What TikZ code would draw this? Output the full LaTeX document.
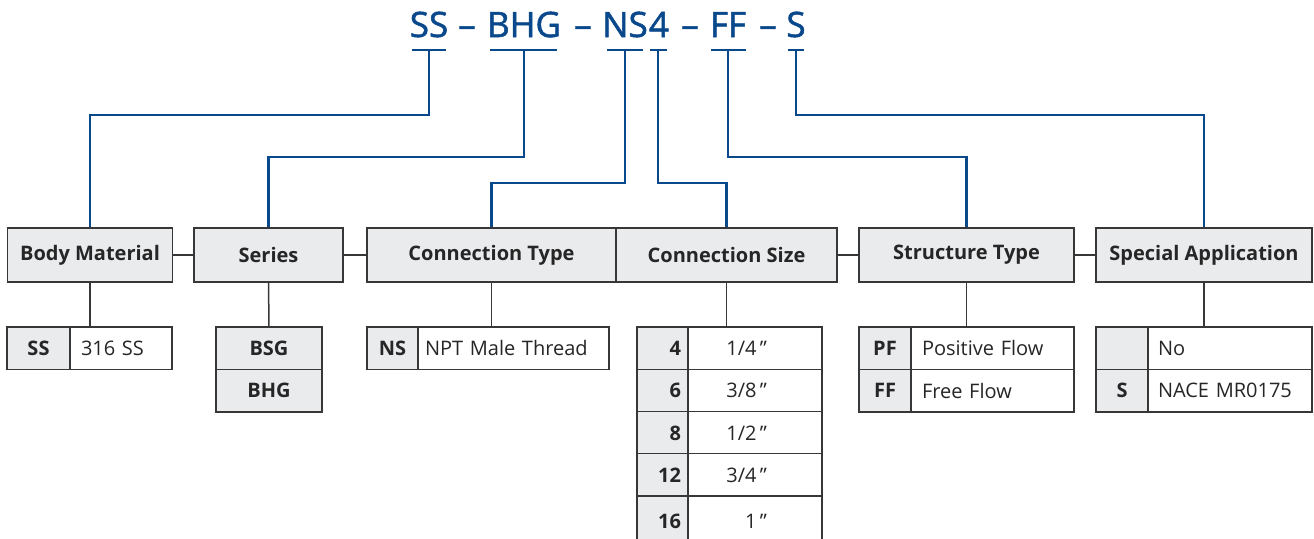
\documentclass[tikz,border=0pt]{standalone}
\usepackage{fontspec}
\setmainfont{Open Sans}
\newfontfamily\codefont[FakeBold=1.5]{Open Sans}
\definecolor{codeblue}{RGB}{10,72,140}
\definecolor{bordc}{RGB}{55,55,55}
\definecolor{cellg}{RGB}{234,235,237}
\newcommand{\qmk}{{\char"22}}
\tikzset{
  hdr/.style={draw=bordc, fill=cellg, line width=1.3pt, minimum height=54pt, inner sep=0pt,
    font=\bfseries\fontsize{20}{23}\selectfont, text=black!85},
  keyc/.style={draw=bordc, fill=cellg, line width=1.3pt, minimum height=42.5pt, inner sep=0pt,
    font=\bfseries\fontsize{20}{23}\selectfont, text=black!85},
  valc/.style={draw=bordc, fill=white, line width=1.3pt, minimum height=42.5pt, inner ysep=0pt,
    font=\fontsize{20}{23}\selectfont, text=black!85, align=left},
  codetxt/.style={text=codeblue, font=\codefont\fontsize{35}{40}\selectfont, anchor=base, inner sep=0pt},
  codeline/.style={draw=codeblue, line width=2.2pt},
  link/.style={draw=bordc, line width=1.5pt}
}
\begin{document}
\begin{tikzpicture}[x=1pt,y=-1pt]
\clip (0,0) rectangle (1314,538);
\fill[white] (0,0) rectangle (1314,538);
% code
\node[codetxt] (cSS) at (429,37) {SS};
\node[codetxt] (d1) at (467,37) {–};
\node[codetxt] (cBHG) at (524,37) {BHG};
\node[codetxt] (d2) at (583,37) {–};
\node[codetxt] (cNS) at (625,37) {NS};
\node[codetxt] (c4) at (659,37) {4};
\node[codetxt] (d3) at (690,37) {–};
\node[codetxt] (cFF) at (728,37) {FF};
\node[codetxt] (d4) at (768,37) {–};
\node[codetxt] (cS) at (796,37) {S};
% bars
\coordinate (bSS) at (429,50);
\coordinate (bBHG) at (524,50);
\coordinate (bNS) at (625,50);
\coordinate (b4) at (658,50);
\coordinate (bFF) at (728,50);
\coordinate (bS) at (796,50);
\draw[codeline] (412,50) -- (446,50);
\draw[codeline] (490,50) -- (557,50);
\draw[codeline] (607,50) -- (643,50);
\draw[codeline] (650,50) -- (667,50);
\draw[codeline] (711,50) -- (746,50);
\draw[codeline] (788,50) -- (804,50);
% headers
\node[hdr, minimum width=165pt] (bm) at (90,255) {Body Material};
\node[hdr, minimum width=149pt] (ser) at (268.5,255) {Series};
\node[hdr, minimum width=249pt] (ct) at (491.5,255) {Connection Type};
\node[hdr, minimum width=221pt] (cs) at (726.5,255) {Connection Size};
\node[hdr, minimum width=215pt] (st) at (966.5,255) {Structure Type};
\node[hdr, minimum width=216pt] (sa) at (1204,255) {Special Application};
% blue connectors
\draw[codeline] (bSS) -- ++(0,65) -| (bm.north);
\draw[codeline] (bBHG) -- ++(0,107) -| (ser.north);
\draw[codeline] (bNS) -- ++(0,133) -| (ct.north);
\draw[codeline] (b4) -- ++(0,133) -| (cs.north);
\draw[codeline] (bFF) -- ++(0,107) -| (st.north);
\draw[codeline] (bS) -- ++(0,65) -| (sa.north);
% header links
\draw[link] (bm.east) -- (ser.west);
\draw[link] (ser.east) -- (ct.west);
\draw[link] (cs.east) -- (st.west);
\draw[link] (st.east) -- (sa.west);
% body material table
\node[keyc, minimum width=63pt] (ssk) at (38.5,348.25) {SS};
\node[valc, inner xsep=11pt, text width=80pt] (ssv) at (121,348.25) {316 SS};
% series table
\node[keyc, minimum width=106pt] (se1) at (269,348.25) {BSG};
\node[keyc, minimum width=106pt] (se2) at (269,390.75) {BHG};
% connection type table
\node[keyc, minimum width=51pt] (nsk) at (392.5,348.25) {NS};
\node[valc, inner xsep=7pt, text width=177pt] (nsv) at (513.5,348.25) {NPT Male Thread};
% connection size table
\node[keyc, minimum width=51pt, text width=37pt, align=right, inner xsep=0pt] (k4) at (662.5,348.25) {4};
\node[keyc, minimum width=51pt, text width=37pt, align=right, inner xsep=0pt] (k6) at (662.5,390.75) {6};
\node[keyc, minimum width=51pt, text width=37pt, align=right, inner xsep=0pt] (k8) at (662.5,433) {8};
\node[keyc, minimum width=51pt, text width=37pt, align=right, inner xsep=0pt] (k12) at (662.5,475) {12};
\node[keyc, minimum width=51pt, minimum height=50pt, text width=37pt, align=right, inner xsep=0pt] (k16) at (662.5,521) {16};
\node[valc, inner xsep=0pt, text width=134pt, align=right] (v4) at (755,348.25) {1/4\,\qmk\hspace*{55pt}};
\node[valc, inner xsep=0pt, text width=134pt, align=right] (v6) at (755,390.75) {3/8\,\qmk\hspace*{55pt}};
\node[valc, inner xsep=0pt, text width=134pt, align=right] (v8) at (755,433) {1/2\,\qmk\hspace*{55pt}};
\node[valc, inner xsep=0pt, text width=134pt, align=right] (v12) at (755,475) {3/4\,\qmk\hspace*{55pt}};
\node[valc, inner xsep=0pt, text width=134pt, align=right, minimum height=50pt] (v16) at (755,521) {1\,\qmk\hspace*{55pt}};
% structure type table
\node[keyc, minimum width=52pt] (pfk) at (885,348.25) {PF};
\node[valc, inner xsep=11pt, text width=141pt] (pfv) at (992.5,348.25) {Positive Flow};
\node[keyc, minimum width=52pt] (ffk) at (885,390.75) {FF};
\node[valc, inner xsep=11pt, text width=141pt] (ffv) at (992.5,390.75) {Free Flow};
% special application table
\node[keyc, minimum width=52pt] (nok) at (1122,348.25) {};
\node[valc, inner xsep=10pt, text width=144pt] (nov) at (1230,348.25) {No};
\node[keyc, minimum width=52pt] (sk) at (1122,390.75) {S};
\node[valc, inner xsep=10pt, text width=144pt] (sv) at (1230,390.75) {NACE MR0175};
% vertical links
\draw[link] (bm.south) -- (bm.south |- ssv.north);
\draw[link] (ser.south) -- (se1.north);
\draw[link] (ct.south) -- (ct.south |- nsv.north);
\draw[link] (cs.south) -- (cs.south |- v4.north);
\draw[link] (st.south) -- (st.south |- pfv.north);
\draw[link] (sa.south) -- (sa.south |- nov.north);
\end{tikzpicture}
\end{document}
